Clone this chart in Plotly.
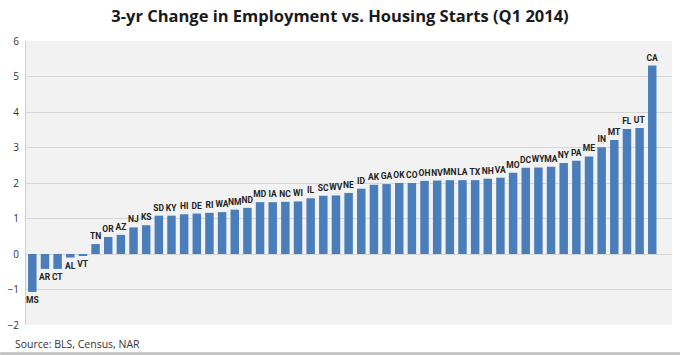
import plotly.graph_objects as go

states = ["MS","AR","CT","AL","VT","TN","OR","AZ","NJ","KS",
          "SD","KY","HI","DE","RI","WA","NM","ND","MD","IA",
          "NC","WI","IL","SC","WV","NE","ID","AK","GA","OK",
          "CO","OH","NV","MN","LA","TX","NH","VA","MO","DC",
          "WY","MA","NY","PA","ME","IN","MT","FL","UT","CA"]
values = [-1.07,-0.42,-0.42,-0.10,-0.03,0.28,0.48,0.54,0.75,0.81,
          1.08,1.08,1.12,1.14,1.16,1.18,1.25,1.30,1.46,1.46,
          1.47,1.48,1.57,1.64,1.65,1.72,1.84,1.95,1.97,2.00,
          2.00,2.06,2.07,2.08,2.08,2.08,2.12,2.15,2.29,2.43,
          2.44,2.46,2.56,2.63,2.75,3.01,3.21,3.52,3.55,5.31]
threshold_high = 1.5
threshold_low = 1.0
y_ticks = [-2,-1,0,1,2,3,4,5,6]

fig = go.Figure()
fig.add_trace(go.Bar(
    x=states, y=values, text=states, textposition="outside",
    constraintext="none",
    textfont=dict(family="Roboto", size=8.5, color="#222222", weight="bold"),
    marker=dict(color="#4a7ebb", line=dict(width=0)),
    cliponaxis=False, showlegend=False,
))
fig.add_shape(type="line", xref="x", yref="y", x0=-0.45, x1=50.2,
              y0=threshold_high, y1=threshold_high,
              line=dict(color="#e11fc8", width=3), layer="above")
fig.add_shape(type="line", xref="x", yref="y", x0=-0.45, x1=50.2,
              y0=threshold_low, y1=threshold_low,
              line=dict(color="#f5b80a", width=3), layer="above")

fig.update_layout(
    width=680, height=355,
    margin=dict(l=23, r=8, t=41, b=30),
    paper_bgcolor="white", plot_bgcolor="#f2f2f2",
    bargap=0.33,
    title=dict(text="<b>3-yr Change in Employment vs. Housing Starts (Q1 2014)</b>",
               x=0.5, xanchor="center", y=0.955, yanchor="middle",
               font=dict(family="Open Sans", size=16.5, color="#1a1a1a")),
    xaxis=dict(showticklabels=False, showgrid=False, zeroline=False,
               range=[-0.5, 50.56], fixedrange=True),
    yaxis=dict(range=[-2, 6], tickvals=y_ticks, showgrid=True,
               gridcolor="#d6d6d6", gridwidth=1, zeroline=False,
               tickfont=dict(family="Open Sans", size=10, color="#333333"),
               showline=True, linecolor="#d0d0d0", linewidth=1,
               ticks="", ticklabelstandoff=4),
    annotations=[dict(text="Source: BLS, Census, NAR", xref="paper", yref="paper",
                      x=-0.02, y=-0.035, xanchor="left", yanchor="top", showarrow=False,
                      font=dict(family="Open Sans", size=10.5, color="#333333"))],
    shapes=[dict(type="line", xref="paper", yref="paper", x0=-0.04, x1=1.02,
                 y0=-0.1, y1=-0.1, line=dict(color="#bbbbbb", width=2))] ,
)
fig.write_html("out.html", config={"displayModeBar": False},
               post_script="document.body.style.margin='0';")
